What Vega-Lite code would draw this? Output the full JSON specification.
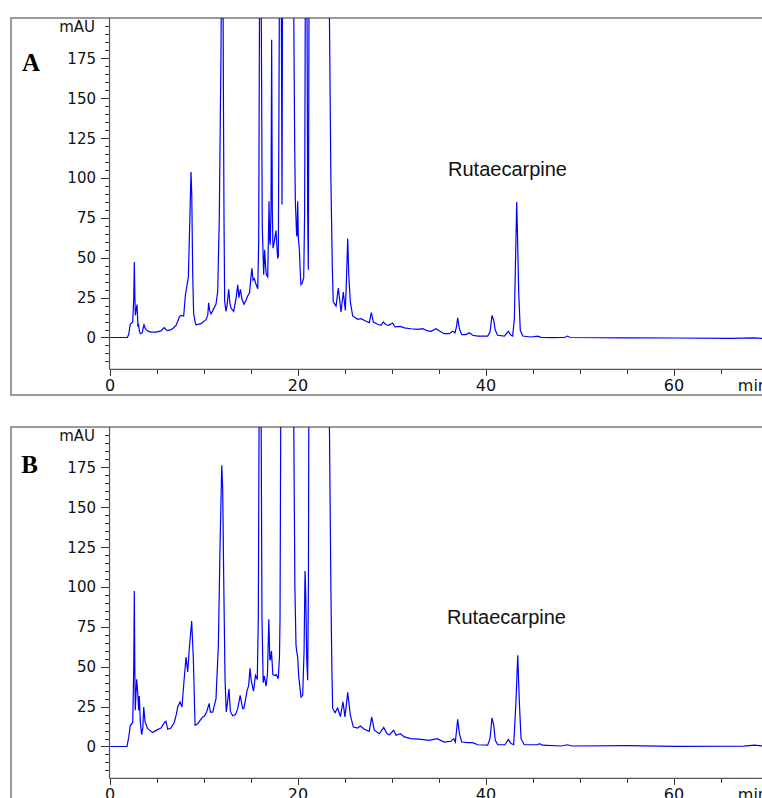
{
  "$schema": "https://vega.github.io/schema/vega-lite/v6.json",
  "padding": {"left": 10, "top": 16, "right": 0, "bottom": 0},
  "bounds": "flush",
  "spacing": 32,
  "config": {
    "view": {"stroke": "#7a7a7a", "strokeWidth": 1.5},
    "axis": {"grid": false, "domain": false, "title": null, "tickColor": "#333333", "tickWidth": 1, "labelFont": "DejaVu Sans", "labelFontSize": 15, "labelColor": "#111111", "labelOverlap": false, "labelBound": false, "labelFlush": false},
    "axisX": {"labelFontSize": 16},
    "axisY": {"labelFontSize": 15},
    "text": {"font": "Liberation Sans", "color": "#111111"}
  },
  "datasets": {
    "A": [
      {"t":0,"v":0},{"t":1.9,"v":0},{"t":2.05,"v":2},{"t":2.2,"v":8.3},{"t":2.47,"v":9.7},{"t":2.58,"v":25},{"t":2.64,"v":47.3},{"t":2.7,"v":25},{"t":2.75,"v":13.9},{"t":2.85,"v":18},{"t":2.93,"v":20.6},{"t":3.03,"v":6.6},{"t":3.1,"v":7.6},{"t":3.18,"v":4},{"t":3.28,"v":2.4},{"t":3.49,"v":3.0},{"t":3.6,"v":6.5},{"t":3.67,"v":8.0},{"t":3.78,"v":6},{"t":3.88,"v":5.1},{"t":4.1,"v":4},{"t":4.41,"v":3.4},{"t":4.95,"v":3.4},{"t":5.48,"v":4.1},{"t":5.7,"v":5.5},{"t":5.83,"v":6.2},{"t":6.0,"v":5},{"t":6.19,"v":4.3},{"t":6.54,"v":4.9},{"t":6.8,"v":6},{"t":7.07,"v":7.6},{"t":7.25,"v":10},{"t":7.43,"v":12.9},{"t":7.61,"v":13.9},{"t":7.89,"v":13.5},{"t":8.07,"v":26.5},{"t":8.39,"v":38},{"t":8.55,"v":75},{"t":8.67,"v":103.7},{"t":8.75,"v":90},{"t":8.85,"v":40},{"t":8.95,"v":15},{"t":9.13,"v":9.2},{"t":9.2,"v":8.0},{"t":9.73,"v":8.7},{"t":10.27,"v":11.2},{"t":10.45,"v":14},{"t":10.55,"v":21.8},{"t":10.65,"v":17},{"t":10.8,"v":14.8},{"t":11.0,"v":17},{"t":11.33,"v":21},{"t":11.51,"v":29},{"t":11.68,"v":75},{"t":11.86,"v":179},{"t":11.95,"v":260},{"t":12.05,"v":260},{"t":12.12,"v":150},{"t":12.18,"v":75},{"t":12.25,"v":22.7},{"t":12.39,"v":16.4},{"t":12.5,"v":20},{"t":12.68,"v":30.2},{"t":12.8,"v":22},{"t":12.93,"v":18.3},{"t":13.21,"v":16.4},{"t":13.45,"v":24},{"t":13.64,"v":33},{"t":13.76,"v":25},{"t":13.92,"v":30.2},{"t":14.1,"v":24},{"t":14.31,"v":20.8},{"t":14.5,"v":23},{"t":14.7,"v":26},{"t":14.9,"v":28},{"t":15.05,"v":38},{"t":15.15,"v":43.4},{"t":15.27,"v":36},{"t":15.4,"v":37},{"t":15.55,"v":34},{"t":15.77,"v":30.5},{"t":15.87,"v":60},{"t":15.96,"v":210},{"t":16.05,"v":450},{"t":16.14,"v":210},{"t":16.25,"v":70},{"t":16.4,"v":39.4},{"t":16.5,"v":55},{"t":16.6,"v":45},{"t":16.68,"v":39.4},{"t":16.83,"v":38},{"t":16.97,"v":85.4},{"t":17.03,"v":62},{"t":17.1,"v":58.2},{"t":17.18,"v":80},{"t":17.25,"v":186.7},{"t":17.32,"v":80},{"t":17.39,"v":56},{"t":17.53,"v":60},{"t":17.71,"v":67},{"t":17.89,"v":49.5},{"t":17.96,"v":51},{"t":18.07,"v":210},{"t":18.18,"v":500},{"t":18.28,"v":210},{"t":18.35,"v":83.4},{"t":18.42,"v":260},{"t":18.6,"v":800},{"t":19.1,"v":1500},{"t":19.45,"v":500},{"t":19.6,"v":205},{"t":19.7,"v":120},{"t":19.77,"v":85.4},{"t":19.9,"v":65},{"t":19.95,"v":63.4},{"t":20.02,"v":85.4},{"t":20.09,"v":62.4},{"t":20.2,"v":55},{"t":20.3,"v":40},{"t":20.37,"v":33.1},{"t":20.5,"v":34},{"t":20.66,"v":37.3},{"t":20.76,"v":80},{"t":20.85,"v":250},{"t":20.92,"v":450},{"t":20.99,"v":250},{"t":21.08,"v":80},{"t":21.15,"v":42.5},{"t":21.22,"v":200},{"t":21.3,"v":600},{"t":22.3,"v":3000},{"t":23.2,"v":500},{"t":23.39,"v":205},{"t":23.55,"v":100},{"t":23.7,"v":45},{"t":23.8,"v":22.3},{"t":24.1,"v":19.7},{"t":24.34,"v":31.0},{"t":24.63,"v":16},{"t":24.87,"v":28.5},{"t":25.09,"v":17},{"t":25.2,"v":35},{"t":25.34,"v":62},{"t":25.45,"v":40},{"t":25.62,"v":22.3},{"t":25.87,"v":13.5},{"t":26.4,"v":11.4},{"t":26.76,"v":11.8},{"t":27.29,"v":10.2},{"t":27.64,"v":9.3},{"t":27.85,"v":15.6},{"t":28.07,"v":9.7},{"t":28.53,"v":8.3},{"t":28.88,"v":7.6},{"t":29.13,"v":9.7},{"t":29.41,"v":8.0},{"t":29.7,"v":7.6},{"t":30.12,"v":9.1},{"t":30.37,"v":6.6},{"t":30.94,"v":7.0},{"t":31.36,"v":6.0},{"t":32.07,"v":5.5},{"t":32.78,"v":5.1},{"t":33.32,"v":5.5},{"t":33.85,"v":4.1},{"t":34.2,"v":3.9},{"t":34.73,"v":5.5},{"t":35.09,"v":4.1},{"t":35.62,"v":2.4},{"t":36.15,"v":2.4},{"t":36.51,"v":3.9},{"t":36.76,"v":3.0},{"t":36.92,"v":7},{"t":37.04,"v":12.4},{"t":37.22,"v":5.5},{"t":37.47,"v":1.8},{"t":37.93,"v":1.8},{"t":38.28,"v":3.0},{"t":38.64,"v":1.4},{"t":39.17,"v":0.9},{"t":40.23,"v":0.9},{"t":40.48,"v":3.4},{"t":40.69,"v":13.9},{"t":40.87,"v":10.8},{"t":41.04,"v":4.5},{"t":41.3,"v":1.4},{"t":42.0,"v":0.9},{"t":42.43,"v":3.9},{"t":42.71,"v":1.4},{"t":42.89,"v":0.9},{"t":43.07,"v":11.8},{"t":43.2,"v":50},{"t":43.32,"v":85.0},{"t":43.42,"v":60},{"t":43.53,"v":28.5},{"t":43.7,"v":4.5},{"t":43.96,"v":0.9},{"t":44.84,"v":0.3},{"t":45.55,"v":0.8},{"t":45.9,"v":0.1},{"t":46.97,"v":-0.1},{"t":48.4,"v":0},{"t":48.7,"v":0.9},{"t":49,"v":0},{"t":55,"v":-0.2},{"t":60.1,"v":-0.3},{"t":66,"v":-0.5},{"t":68.5,"v":-0.3},{"t":70,"v":-0.7},{"t":72.5,"v":-0.7}
    ],
    "B": [
      {"t":0,"v":0},{"t":1.86,"v":0},{"t":2.05,"v":6},{"t":2.21,"v":13.3},{"t":2.47,"v":14.9},{"t":2.58,"v":50},{"t":2.64,"v":97.5},{"t":2.69,"v":50},{"t":2.74,"v":22.7},{"t":2.89,"v":42.1},{"t":3.0,"v":34.2},{"t":3.1,"v":22.7},{"t":3.17,"v":31.7},{"t":3.28,"v":15.4},{"t":3.42,"v":7.4},{"t":3.55,"v":12},{"t":3.64,"v":24.8},{"t":3.78,"v":15.4},{"t":4.06,"v":11.2},{"t":4.6,"v":8.7},{"t":4.95,"v":10.1},{"t":5.48,"v":11.6},{"t":5.83,"v":14.9},{"t":6.01,"v":15.8},{"t":6.19,"v":10.8},{"t":6.54,"v":11.6},{"t":6.9,"v":15.4},{"t":7.1,"v":20},{"t":7.26,"v":24.8},{"t":7.5,"v":27.9},{"t":7.71,"v":24.8},{"t":7.89,"v":38.4},{"t":8.14,"v":56.1},{"t":8.32,"v":46.7},{"t":8.49,"v":61.3},{"t":8.74,"v":78.7},{"t":8.92,"v":55},{"t":9.1,"v":13.3},{"t":9.38,"v":14.3},{"t":9.91,"v":18.5},{"t":10.09,"v":19},{"t":10.35,"v":22},{"t":10.6,"v":27},{"t":10.73,"v":21.6},{"t":10.98,"v":21.6},{"t":11.33,"v":30},{"t":11.58,"v":63.5},{"t":11.76,"v":126},{"t":11.94,"v":176.3},{"t":12.04,"v":161.6},{"t":12.15,"v":105},{"t":12.29,"v":42.5},{"t":12.42,"v":21.6},{"t":12.6,"v":30},{"t":12.71,"v":36.2},{"t":12.86,"v":22},{"t":13.1,"v":19.3},{"t":13.4,"v":20},{"t":13.64,"v":23.7},{"t":13.9,"v":32.1},{"t":14.17,"v":23.7},{"t":14.3,"v":24},{"t":14.65,"v":35.5},{"t":14.8,"v":38},{"t":14.95,"v":49},{"t":15.07,"v":41.5},{"t":15.32,"v":34.7},{"t":15.53,"v":44.6},{"t":15.72,"v":42},{"t":15.83,"v":80},{"t":15.92,"v":220},{"t":16.02,"v":450},{"t":16.12,"v":220},{"t":16.22,"v":80},{"t":16.35,"v":40},{"t":16.47,"v":44.2},{"t":16.65,"v":37.8},{"t":16.8,"v":45},{"t":16.95,"v":79.7},{"t":17.05,"v":55},{"t":17.11,"v":54},{"t":17.23,"v":59.8},{"t":17.38,"v":45},{"t":17.6,"v":44.6},{"t":17.75,"v":45},{"t":17.95,"v":42.5},{"t":18.08,"v":56.1},{"t":18.14,"v":80},{"t":18.22,"v":210},{"t":18.35,"v":600},{"t":19.0,"v":1500},{"t":19.45,"v":500},{"t":19.6,"v":205},{"t":19.72,"v":100},{"t":19.84,"v":63.5},{"t":19.93,"v":59},{"t":20.02,"v":56.1},{"t":20.12,"v":44.6},{"t":20.37,"v":31},{"t":20.55,"v":32.1},{"t":20.7,"v":60},{"t":20.8,"v":110},{"t":20.86,"v":100},{"t":20.92,"v":80},{"t":20.98,"v":55},{"t":21.08,"v":41.5},{"t":21.16,"v":100},{"t":21.22,"v":250},{"t":21.35,"v":700},{"t":22.3,"v":3000},{"t":23.2,"v":500},{"t":23.39,"v":205},{"t":23.55,"v":100},{"t":23.65,"v":50},{"t":23.74,"v":24},{"t":23.99,"v":21.2},{"t":24.27,"v":24.1},{"t":24.56,"v":18.7},{"t":24.84,"v":28},{"t":25.05,"v":18.5},{"t":25.34,"v":33.9},{"t":25.62,"v":19.6},{"t":25.94,"v":12.2},{"t":26.4,"v":11.6},{"t":26.68,"v":12.9},{"t":27.11,"v":10.8},{"t":27.64,"v":9.5},{"t":27.89,"v":18.5},{"t":28.17,"v":10.2},{"t":28.7,"v":8.0},{"t":29.17,"v":12.0},{"t":29.52,"v":8.0},{"t":29.77,"v":7.4},{"t":30.23,"v":10.2},{"t":30.48,"v":7.0},{"t":30.94,"v":8.0},{"t":31.36,"v":6.0},{"t":32.07,"v":4.9},{"t":33.14,"v":4.5},{"t":34.02,"v":3.9},{"t":34.84,"v":4.9},{"t":35.62,"v":2.8},{"t":36.33,"v":3.3},{"t":36.62,"v":4.9},{"t":36.79,"v":2.8},{"t":36.92,"v":10},{"t":37.04,"v":17.0},{"t":37.22,"v":8.0},{"t":37.47,"v":2.8},{"t":38.1,"v":2.4},{"t":38.64,"v":2.4},{"t":39.17,"v":1.1},{"t":40.23,"v":0.8},{"t":40.48,"v":4.9},{"t":40.69,"v":17.9},{"t":40.87,"v":13.7},{"t":41.04,"v":3.9},{"t":41.3,"v":1.1},{"t":42.07,"v":1.1},{"t":42.43,"v":4.5},{"t":42.71,"v":1.8},{"t":43.0,"v":1.1},{"t":43.24,"v":27.9},{"t":43.43,"v":57.2},{"t":43.6,"v":27.9},{"t":43.78,"v":4.9},{"t":44.13,"v":1.1},{"t":45.55,"v":1.1},{"t":45.73,"v":1.8},{"t":46.08,"v":0.8},{"t":48.03,"v":0.3},{"t":48.7,"v":1.1},{"t":49.2,"v":0.3},{"t":55.1,"v":0.5},{"t":60.1,"v":0.1},{"t":67.5,"v":0.2},{"t":68.6,"v":0.8},{"t":69.5,"v":0.3},{"t":72.5,"v":0}
    ]
  },
  "vconcat": [
    {
      "width": 780,
      "height": 377,
      "resolve": {"axis": {"x": "independent", "y": "independent"}},
      "layer": [
        {
          "data": {"name": "A"},
          "mark": {"type": "line", "color": "#0000ff", "strokeWidth": 1.2, "clip": true},
          "encoding": {
            "x": {"field": "t", "type": "quantitative", "scale": {"domain": [-10.48, 72.5], "nice": false, "zero": false},
              "axis": {"orient": "bottom", "offset": -25.6, "values": [0,20,40,60], "tickSize": 6, "labelPadding": 2, "labelFontSize": 16, "labelOverlap": false, "labelFlush": false}},
            "y": {"field": "v", "type": "quantitative", "scale": {"domain": [-36.05, 200.3], "nice": false, "zero": false},
              "axis": {"orient": "left", "offset": -98.5, "values": [0,25,50,75,100,125,150,175], "tickSize": 9, "labelPadding": 5, "labelFontSize": 15, "labelOverlap": false}}
          }
        },
        {
          "data": {"values": [{}]},
          "mark": {"type": "rule", "color": "#555555", "strokeWidth": 1.2},
          "encoding": {
            "x": {"datum": 0, "type": "quantitative", "axis": null},
            "y": {"datum": -20, "type": "quantitative", "axis": {"orient": "left", "offset": -98.5, "values": [-15,-10,-5,5,10,15,20,30,35,40,45,55,60,65,70,80,85,90,95,105,110,115,120,130,135,140,145,155,160,165,170,180,185,190,195], "tickSize": 5, "labelExpr": "datum.value === 195 ? 'mAU' : ''", "labelPadding": 10, "labelFontSize": 15, "labelOverlap": false}},
            "y2": {"datum": 200.3}
          }
        },
        {
          "data": {"values": [{}]},
          "mark": {"type": "rule", "color": "#555555", "strokeWidth": 1.2},
          "encoding": {
            "x": {"datum": 0, "type": "quantitative", "axis": {"orient": "bottom", "offset": -25.6, "values": [5,10,15,25,30,35,45,50,55,65,70], "tickSize": 4, "labelExpr": "datum.value === 70 ? 'min' : ''", "labelAlign": "right", "labelPadding": 4, "labelFontSize": 16, "labelOverlap": false, "labelFlush": false}},
            "x2": {"datum": 72.5},
            "y": {"datum": -20, "type": "quantitative", "axis": null}
          }
        },
        {
          "data": {"values": [{}]},
          "mark": {"type": "text", "font": "Liberation Serif", "fontWeight": "bold", "fontSize": 25, "align": "center", "baseline": "middle", "color": "#000000"},
          "encoding": {"x": {"datum": -8.35, "type": "quantitative", "axis": null}, "y": {"datum": 172.1, "type": "quantitative", "axis": null}, "text": {"value": "A"}}
        },
        {
          "data": {"values": [{}]},
          "mark": {"type": "text", "fontSize": 20, "align": "center", "baseline": "middle"},
          "encoding": {"x": {"datum": 42.34, "type": "quantitative", "axis": null}, "y": {"datum": 104.8, "type": "quantitative", "axis": null}, "text": {"value": "Rutaecarpine"}}
        }
      ]
    },
    {
      "width": 780,
      "height": 377,
      "resolve": {"axis": {"x": "independent", "y": "independent"}},
      "layer": [
        {
          "data": {"name": "B"},
          "mark": {"type": "line", "color": "#0000ff", "strokeWidth": 1.2, "clip": true},
          "encoding": {
            "x": {"field": "t", "type": "quantitative", "scale": {"domain": [-10.48, 72.5], "nice": false, "zero": false},
              "axis": {"orient": "bottom", "offset": -25.6, "values": [0,20,40,60], "tickSize": 6, "labelPadding": 2, "labelFontSize": 16, "labelOverlap": false, "labelFlush": false}},
            "y": {"field": "v", "type": "quantitative", "scale": {"domain": [-36.05, 200.3], "nice": false, "zero": false},
              "axis": {"orient": "left", "offset": -98.5, "values": [0,25,50,75,100,125,150,175], "tickSize": 9, "labelPadding": 5, "labelFontSize": 15, "labelOverlap": false}}
          }
        },
        {
          "data": {"values": [{}]},
          "mark": {"type": "rule", "color": "#555555", "strokeWidth": 1.2},
          "encoding": {
            "x": {"datum": 0, "type": "quantitative", "axis": null},
            "y": {"datum": -20, "type": "quantitative", "axis": {"orient": "left", "offset": -98.5, "values": [-15,-10,-5,5,10,15,20,30,35,40,45,55,60,65,70,80,85,90,95,105,110,115,120,130,135,140,145,155,160,165,170,180,185,190,195], "tickSize": 5, "labelExpr": "datum.value === 195 ? 'mAU' : ''", "labelPadding": 10, "labelFontSize": 15, "labelOverlap": false}},
            "y2": {"datum": 200.3}
          }
        },
        {
          "data": {"values": [{}]},
          "mark": {"type": "rule", "color": "#555555", "strokeWidth": 1.2},
          "encoding": {
            "x": {"datum": 0, "type": "quantitative", "axis": {"orient": "bottom", "offset": -25.6, "values": [5,10,15,25,30,35,45,50,55,65,70], "tickSize": 4, "labelExpr": "datum.value === 70 ? 'min' : ''", "labelAlign": "right", "labelPadding": 4, "labelFontSize": 16, "labelOverlap": false, "labelFlush": false}},
            "x2": {"datum": 72.5},
            "y": {"datum": -20, "type": "quantitative", "axis": null}
          }
        },
        {
          "data": {"values": [{}]},
          "mark": {"type": "text", "font": "Liberation Serif", "fontWeight": "bold", "fontSize": 25, "align": "center", "baseline": "middle", "color": "#000000"},
          "encoding": {"x": {"datum": -8.5, "type": "quantitative", "axis": null}, "y": {"datum": 176.5, "type": "quantitative", "axis": null}, "text": {"value": "B"}}
        },
        {
          "data": {"values": [{}]},
          "mark": {"type": "text", "fontSize": 20, "align": "center", "baseline": "middle"},
          "encoding": {"x": {"datum": 42.23, "type": "quantitative", "axis": null}, "y": {"datum": 80.6, "type": "quantitative", "axis": null}, "text": {"value": "Rutaecarpine"}}
        }
      ]
    }
  ]
}
